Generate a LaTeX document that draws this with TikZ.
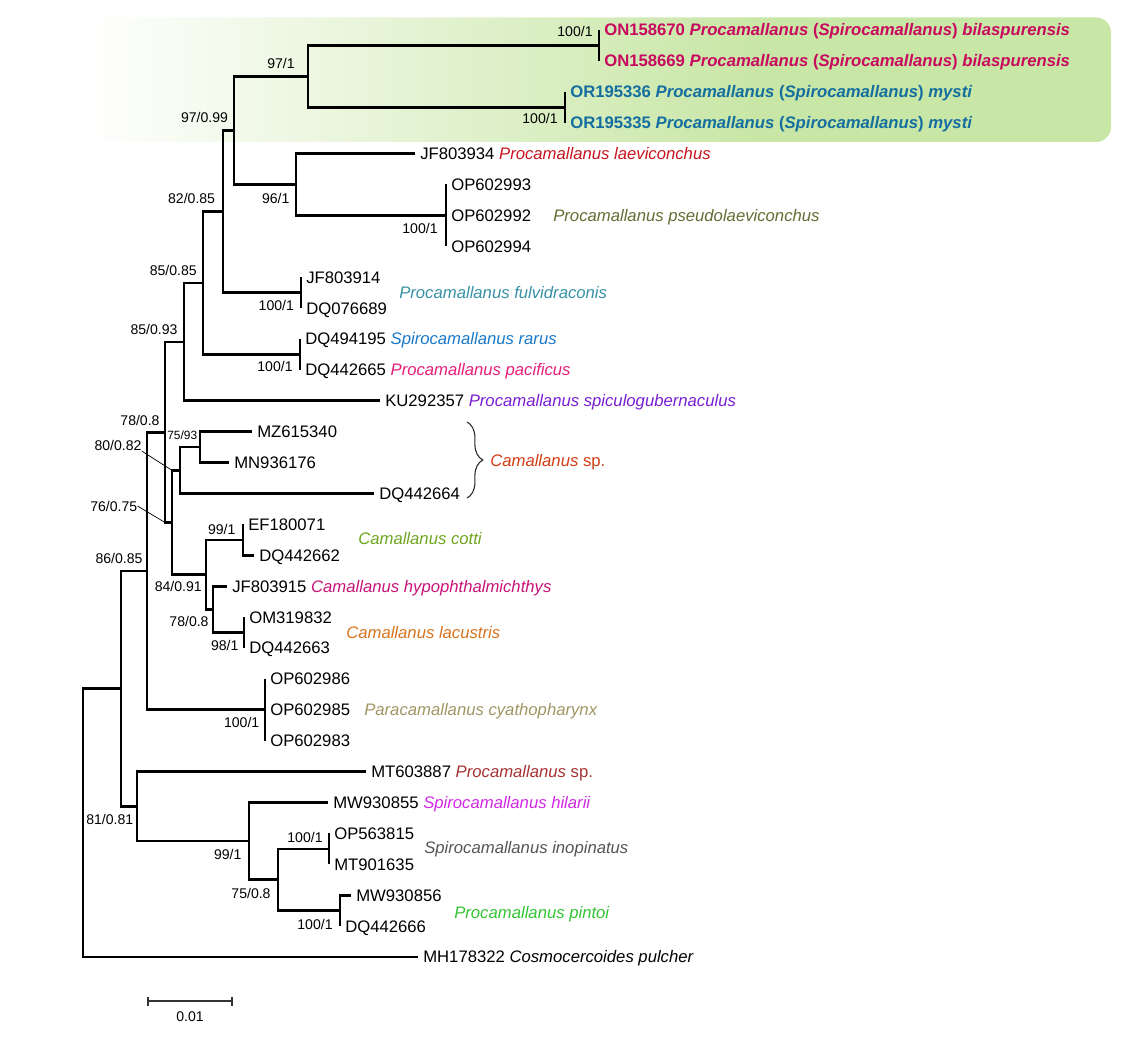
\documentclass[tikz,border=0pt]{standalone}
\usepackage{fontspec}
\setmainfont{Liberation Sans}
\usepackage{xcolor}
\usetikzlibrary{positioning,calc,decorations.pathreplacing}
\definecolor{boxgreen}{RGB}{200,230,165}
\definecolor{cbil}{RGB}{200,10,95}
\definecolor{cmys}{RGB}{20,110,160}
\definecolor{claev}{RGB}{200,20,30}
\definecolor{cpseu}{RGB}{95,110,50}
\definecolor{cfulv}{RGB}{55,145,165}
\definecolor{crar}{RGB}{25,120,200}
\definecolor{cpac}{RGB}{230,30,120}
\definecolor{cspic}{RGB}{120,30,210}
\definecolor{ccam}{RGB}{210,60,20}
\definecolor{ccot}{RGB}{110,165,30}
\definecolor{chyp}{RGB}{200,20,120}
\definecolor{clac}{RGB}{215,115,30}
\definecolor{ccya}{RGB}{160,150,100}
\definecolor{cpsp}{RGB}{165,50,50}
\definecolor{chil}{RGB}{210,40,230}
\definecolor{cino}{RGB}{85,85,85}
\definecolor{cpin}{RGB}{50,195,50}
\pgfdeclarehorizontalshading{cladefade}{100bp}{color(0bp)=(white); color(25bp)=(white); color(58bp)=(boxgreen); color(100bp)=(boxgreen)}
\tikzset{
  br/.style={line width=1.5pt},
  tip/.style={anchor=west,inner sep=2.8pt,font=\fontsize{9.5}{11}\selectfont,text height=6.8pt,text depth=0pt},
  bs/.style={inner sep=0pt,font=\fontsize{8}{9}\selectfont,text height=5.7pt,text depth=0pt},
  bss/.style={inner sep=0pt,font=\fontsize{6.8}{8}\selectfont,text height=4.9pt,text depth=0pt},
  lead/.style={line width=0.4pt},
  sbar/.style={line width=0.9pt,black!80},
}

\begin{document}
\begin{tikzpicture}[x=0.02cm,y=-0.02cm]
  \useasboundingbox (0,0) rectangle (1125,1037);
  \path[shading=cladefade,rounded corners=8.5pt] (85,17.5) rectangle (1111,142);

  % tips
  \node[tip] (t00) at (599,30.0){\bfseries\color{cbil}ON158670 \textit{Procamallanus} (\textit{Spirocamallanus}) \textit{bilaspurensis}};
  \node[tip] (t01) at (599,60.9){\bfseries\color{cbil}ON158669 \textit{Procamallanus} (\textit{Spirocamallanus}) \textit{bilaspurensis}};
  \node[tip] (t02) at (565,91.8){\bfseries\color{cmys}OR195336 \textit{Procamallanus} (\textit{Spirocamallanus}) \textit{mysti}};
  \node[tip] (t03) at (565,122.7){\bfseries\color{cmys}OR195335 \textit{Procamallanus} (\textit{Spirocamallanus}) \textit{mysti}};
  \node[tip] (t04) at (415,153.6){JF803934 \textcolor{claev}{\itshape Procamallanus laeviconchus}};
  \node[tip] (t05) at (446,184.5){OP602993};
  \node[tip] (t06) at (446,215.4){OP602992};
  \node[tip] (t07) at (446,246.3){OP602994};
  \node[tip] (t08) at (301,277.2){JF803914};
  \node[tip] (t09) at (301,308.1){DQ076689};
  \node[tip] (t10) at (300,339.0){DQ494195 \textcolor{crar}{\itshape Spirocamallanus rarus}};
  \node[tip] (t11) at (300,369.9){DQ442665 \textcolor{cpac}{\itshape Procamallanus pacificus}};
  \node[tip] (t12) at (380,400.8){KU292357 \textcolor{cspic}{\itshape Procamallanus spiculogubernaculus}};
  \node[tip] (t13) at (252,431.7){MZ615340};
  \node[tip] (t14) at (229,462.6){MN936176};
  \node[tip] (t15) at (374,493.5){DQ442664};
  \node[tip] (t16) at (243,524.4){EF180071};
  \node[tip] (t17) at (254,555.3){DQ442662};
  \node[tip] (t18) at (227,586.2){JF803915 \textcolor{chyp}{\itshape Camallanus hypophthalmichthys}};
  \node[tip] (t19) at (244,617.1){OM319832};
  \node[tip] (t20) at (244,648.0){DQ442663};
  \node[tip] (t21) at (265,678.9){OP602986};
  \node[tip] (t22) at (265,709.8){OP602985};
  \node[tip] (t23) at (265,740.7){OP602983};
  \node[tip] (t24) at (366,771.6){MT603887 \textcolor{cpsp}{\textit{Procamallanus} sp.}};
  \node[tip] (t25) at (328,802.5){MW930855 \textcolor{chil}{\itshape Spirocamallanus hilarii}};
  \node[tip] (t26) at (329,833.4){OP563815};
  \node[tip] (t27) at (329,864.3){MT901635};
  \node[tip] (t28) at (351,895.2){MW930856};
  \node[tip] (t29) at (340,926.1){DQ442666};
  \node[tip] (t30) at (418,957.0){MH178322 \textit{Cosmocercoides pulcher}};

  % group names
  \node[tip,cpseu] (gpseu) at (548,215.4){\itshape Procamallanus pseudolaeviconchus};
  \node[tip,cfulv] (gfulv) at (394,292.6){\itshape Procamallanus fulvidraconis};
  \node[tip,ccot] (gcot) at (353,538.8){\itshape Camallanus cotti};
  \node[tip,clac] (glac) at (341,633.0){\itshape Camallanus lacustris};
  \node[tip,ccya] (gcya) at (359,709.8){\itshape Paracamallanus cyathopharynx};
  \node[tip,cino] (gino) at (419,847.8){\itshape Spirocamallanus inopinatus};
  \node[tip,cpin] (gpin) at (449,913.0){\itshape Procamallanus pintoi};

  % internal nodes
  \coordinate (bil) at (599,45.45);
  \coordinate (mys) at (565,107.25);
  \coordinate (n971) at (308,76.35);
  \coordinate (n9799) at (234,130.43);
  \coordinate (n96) at (296,184.5);
  \coordinate (pse) at (446,215.4);
  \coordinate (ful) at (301,292.65);
  \coordinate (nA) at (223,211.54);
  \coordinate (rar) at (300,354.45);
  \coordinate (n82) at (203,283.0);
  \coordinate (n85a) at (184,341.9);
  \coordinate (n7593) at (200,447.15);
  \coordinate (n80) at (180,470.33);
  \coordinate (cot) at (243,539.85);
  \coordinate (lac) at (244,632.55);
  \coordinate (n788) at (213,609.4);
  \coordinate (n84) at (206,574.63);
  \coordinate (n76) at (172,522.48);
  \coordinate (n85b) at (165,432.19);
  \coordinate (par) at (265,709.8);
  \coordinate (n78) at (147,571.0);
  \coordinate (ino) at (329,848.85);
  \coordinate (pin) at (340,910.65);
  \coordinate (n758) at (278,879.75);
  \coordinate (n99) at (249,841.13);
  \coordinate (n81) at (137,806.36);
  \coordinate (n86) at (121,688.68);
  \coordinate (root) at (83,822.84);

  % branches
  \draw[br] (root) |- (n86);  \draw[br] (root) |- (t30.west);
  \draw[br] (n86) |- (n78);   \draw[br] (n86) |- (n81);
  \draw[br] (n78) |- (n85b);  \draw[br] (n78) |- (par);
  \draw[br] (n85b) |- (n85a); \draw[br] (n85b) |- (n76);
  \draw[br] (n85a) |- (n82);  \draw[br] (n85a) |- (t12.west);
  \draw[br] (n82) |- (nA);    \draw[br] (n82) |- (rar);
  \draw[br] (nA) |- (n9799);  \draw[br] (nA) |- (ful);
  \draw[br] (n9799) |- (n971); \draw[br] (n9799) |- (n96);
  \draw[br] (n971) |- (bil);  \draw[br] (n971) |- (mys);
  \draw[br] (n96) |- (t04.west); \draw[br] (n96) |- (pse);
  \draw[br] (n76) |- (n80);   \draw[br] (n76) |- (n84);
  \draw[br] (n80) |- (n7593); \draw[br] (n80) |- (t15.west);
  \draw[br] (n7593) |- (t13.west); \draw[br] (n7593) |- (t14.west);
  \draw[br] (n84) |- (cot);   \draw[br] (n84) |- (n788);
  \draw[br] (n788) |- (t18.west); \draw[br] (n788) |- (lac);
  \draw[br] (n81) |- (t24.west); \draw[br] (n81) |- (n99);
  \draw[br] (n99) |- (t25.west); \draw[br] (n99) |- (n758);
  \draw[br] (n758) |- (ino);  \draw[br] (n758) |- (pin);
  \draw[br] (t00.west) -- (t01.west);
  \draw[br] (t02.west) -- (t03.west);
  \draw[br] (t05.west) -- (t07.west);
  \draw[br] (t08.west) -- (t09.west);
  \draw[br] (t10.west) -- (t11.west);
  \draw[br] (t16.west) |- (t17.west);
  \draw[br] (t19.west) -- (t20.west);
  \draw[br] (t21.west) -- (t23.west);
  \draw[br] (t26.west) -- (t27.west);
  \draw[br] (t29.west) |- (t28.west);

  % support values
  \node[bs] (bbil) at (575,31.7){100/1};
  \node[bs] (b971) at (281,63.3){97/1};
  \node[bs] (bmys) at (540,118.3){100/1};
  \node[bs] (b9799) at (204.5,117.3){97/0.99};
  \node[bs] (b96) at (275.7,198){96/1};
  \node[bs] (bpse) at (420,228.3){100/1};
  \node[bs] (b82) at (191.6,198){82/0.85};
  \node[bs] (b85a) at (173.3,270){85/0.85};
  \node[bs] (bful) at (276.3,305){100/1};
  \node[bs] (b85b) at (154,329){85/0.93};
  \node[bs] (brar) at (275,366.7){100/1};
  \node[bs] (b78a) at (140,420){78/0.8};
  \node[bss] (b7593) at (182.3,435){75/93};
  \node[bs] (b80) at (118,445.7){80/0.82};
  \node[bs] (b76) at (113.7,506){76/0.75};
  \node[bs] (bcot) at (221.7,529){99/1};
  \node[bs] (b84) at (178.3,586.7){84/0.91};
  \node[bs] (b788) at (189,621.7){78/0.8};
  \node[bs] (blac) at (224.7,645){98/1};
  \node[bs] (b86) at (119,558.3){86/0.85};
  \node[bs] (bpar) at (241.7,722.7){100/1};
  \node[bs] (b81) at (109.7,819.3){81/0.81};
  \node[bs] (b99) at (227.7,854.3){99/1};
  \node[bs] (bino) at (305,837.7){100/1};
  \node[bs] (b758) at (251,893.3){75/0.8};
  \node[bs] (bpin) at (315,924.3){100/1};
  \draw[lead] (b80.south east) -- (n76 |- n80);
  \draw[lead] (b76.east) -- (n85b |- n76);

  % Camallanus sp. brace
  \coordinate (brt) at (467,422);
  \coordinate (brb) at (467,498);
  \draw[lead,line width=0.6pt,black!85,decorate,decoration={brace,amplitude=9pt}] (brt) -- (brb);
  \node[tip,ccam] (gcam) at (485,460.5){\textit{Camallanus} sp.};

  % scale bar
  \coordinate (sbl) at (148,1001);
  \coordinate (sbr) at (232,1001);
  \draw[sbar] (sbl) -- (sbr) (sbl) ++(0,-4) -- ++(0,9) (sbr) ++(0,-4) -- ++(0,9);
  \node[bs] (sblab) at (190,1016){0.01};
\end{tikzpicture}
\end{document}
